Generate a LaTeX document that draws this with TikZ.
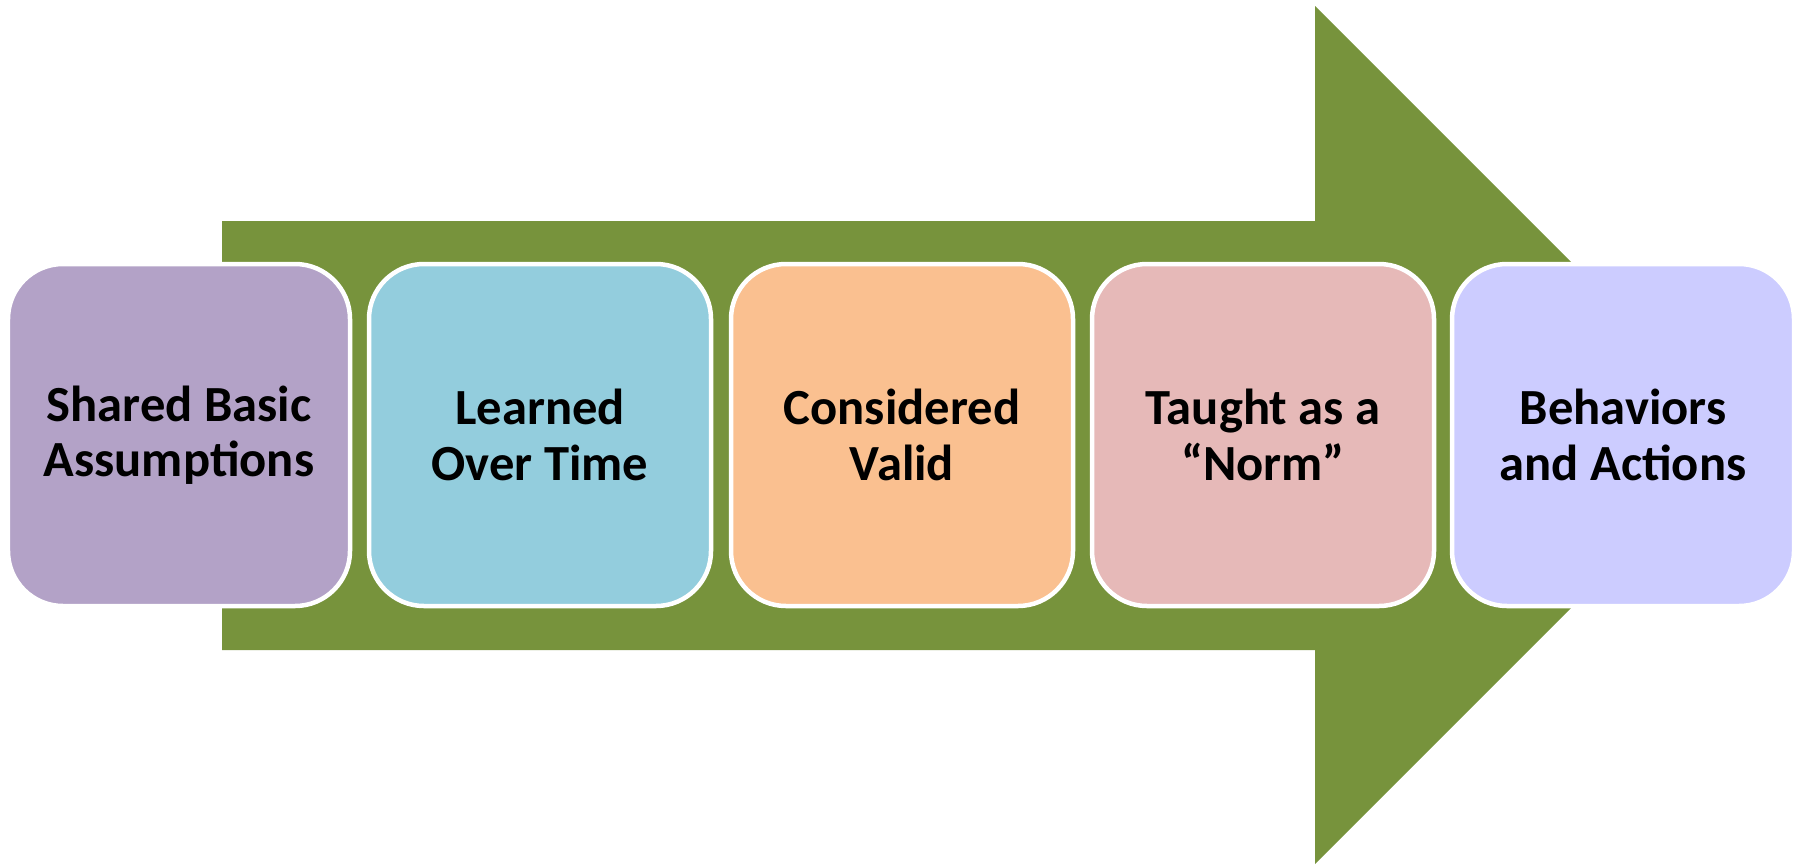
\documentclass[tikz,border=0pt]{standalone}
\usepackage{fontspec}
\setmainfont{Carlito}
\definecolor{arrowgreen}{HTML}{77933C}
\definecolor{boxpurple}{HTML}{B3A2C7}
\definecolor{boxblue}{HTML}{93CDDD}
\definecolor{boxorange}{HTML}{FAC090}
\definecolor{boxpink}{HTML}{E6B9B8}
\definecolor{boxlavender}{HTML}{CCCCFF}
\begin{document}
\begin{tikzpicture}[stage/.style={rectangle, rounded corners=0.55cm, draw=white, line width=0.045cm, minimum width=3.42cm, minimum height=3.42cm, align=center, font=\fontsize{14.4}{15.8}\selectfont\bfseries}]
		\useasboundingbox (0,0) rectangle (18.02,8.65);
		
		\fill [arrowgreen] (2.22,6.44) -- (13.15,6.44) -- (13.15,8.59) -- (17.44,4.30) -- (13.15,0.01) -- (13.15,2.15) -- (2.22,2.15) -- cycle;
		
		\node (rectshared) [stage, fill=boxpurple] at (1.79,4.30) {Shared Basic\\Assumptions};
		
		\node (rectlearned) [stage, fill=boxblue] at (5.40,4.30) {Learned\\Over Time};
		
		\node (rectvalid) [stage, fill=boxorange] at (9.02,4.30) {Considered\\Valid};
		
		\node (recttaught) [stage, fill=boxpink] at (12.63,4.30) {Taught as a\\“Norm”};
		
		\node (rectbehav) [stage, fill=boxlavender] at (16.23,4.30) {Behaviors\\and Actions};
		
		\end{tikzpicture}
\end{document}
